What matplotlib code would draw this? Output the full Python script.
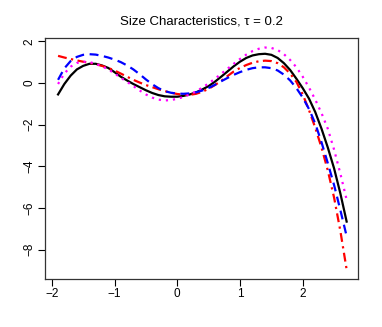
import matplotlib
matplotlib.use('Agg')
import matplotlib.pyplot as plt

plt.rcParams['font.family'] = ['Liberation Sans', 'DejaVu Sans']

# x grid the curves were read at (step 0.1, -1.9 .. 2.7)
x = [-1.9, -1.8, -1.7, -1.6, -1.5, -1.4, -1.3, -1.2, -1.1, -1.0,
     -0.9, -0.8, -0.7, -0.6, -0.5, -0.4, -0.3, -0.2, -0.1, 0.0,
     0.1, 0.2, 0.3, 0.4, 0.5, 0.6, 0.7, 0.8, 0.9, 1.0,
     1.1, 1.2, 1.3, 1.4, 1.5, 1.6, 1.7, 1.8, 1.9, 2.0,
     2.1, 2.2, 2.3, 2.4, 2.5, 2.6, 2.7]

black_solid = [-0.55, -0.05, 0.35, 0.65, 0.82, 0.92, 0.92, 0.84, 0.72, 0.52,
               0.30, 0.12, -0.05, -0.20, -0.35, -0.48, -0.58, -0.64, -0.66, -0.66,
               -0.62, -0.55, -0.45, -0.31, -0.15, 0.06, 0.30, 0.55, 0.80, 1.02,
               1.20, 1.32, 1.38, 1.40, 1.35, 1.20, 0.95, 0.62, 0.20, -0.25,
               -0.75, -1.40, -2.2, -3.1, -4.1, -5.3, -6.65]
red_dashdot = [1.30, 1.22, 1.15, 1.08, 1.02, 0.96, 0.90, 0.82, 0.72, 0.60,
               0.45, 0.30, 0.15, 0.02, -0.10, -0.20, -0.30, -0.39, -0.47, -0.53,
               -0.56, -0.57, -0.52, -0.42, -0.28, -0.10, 0.10, 0.33, 0.55, 0.72,
               0.86, 0.97, 1.04, 1.07, 1.05, 0.95, 0.75, 0.45, 0.05, -0.55,
               -1.30, -2.15, -3.1, -4.2, -5.5, -7.1, -8.95]
blue_dashed = [0.15, 0.70, 1.05, 1.25, 1.35, 1.38, 1.36, 1.30, 1.22, 1.12,
               1.00, 0.84, 0.65, 0.42, 0.17, -0.06, -0.25, -0.39, -0.47, -0.51,
               -0.52, -0.50, -0.45, -0.36, -0.24, -0.09, 0.08, 0.24, 0.39, 0.52,
               0.63, 0.71, 0.75, 0.75, 0.71, 0.60, 0.40, 0.12, -0.25, -0.70,
               -1.25, -1.95, -2.85, -3.85, -4.9, -6.1, -7.35]
magenta_dotted = [-0.05, 0.45, 0.78, 0.96, 1.02, 1.00, 0.92, 0.80, 0.65, 0.46,
                  0.25, 0.05, -0.15, -0.36, -0.55, -0.70, -0.80, -0.84, -0.82, -0.76,
                  -0.67, -0.55, -0.40, -0.22, -0.02, 0.20, 0.44, 0.68, 0.92, 1.15,
                  1.36, 1.53, 1.64, 1.70, 1.68, 1.58, 1.38, 1.10, 0.75, 0.30,
                  -0.22, -0.80, -1.45, -2.2, -3.2, -4.35, -5.6]

x_ticks = [-2, -1, 0, 1, 2]
y_ticks = [-8, -6, -4, -2, 0, 2]


def fmt(v):
  return str(v).replace('-', '\u2212')


fig = plt.figure(figsize=(3.82, 3.27), dpi=100)
ax = fig.add_axes([0.118, 0.147, 0.819, 0.737])

ax.plot(x, black_solid, color='black', lw=1.6, ls='-')
ax.plot(x, red_dashdot, color='red', lw=1.6, ls=(0, (4, 2, 1, 2)))
ax.plot(x, blue_dashed, color='blue', lw=1.6, ls=(0, (4, 2.5)))
ax.plot(x, magenta_dotted, color='magenta', lw=1.6, ls=(0, (1, 2.2)))

ax.set_xlim(-2.107, 2.88)
ax.set_ylim(-9.4, 2.16)
ax.set_xticks(x_ticks)
ax.set_yticks(y_ticks)
ax.set_xticklabels([fmt(v) for v in x_ticks])
ax.set_yticklabels([fmt(v) for v in y_ticks], rotation=90, va='center')
ax.tick_params(direction='out', length=5, width=0.8, labelsize=8.5)
ax.tick_params(axis='x', pad=1.5)
ax.tick_params(axis='y', pad=2)

for side in ax.spines.values():
  side.set_linewidth(0.9)
  side.set_color('#333333')

ax.set_title('Size Characteristics, \u03c4 = 0.2', fontsize=9.5, pad=10)

fig.savefig('out.png', dpi=100)
